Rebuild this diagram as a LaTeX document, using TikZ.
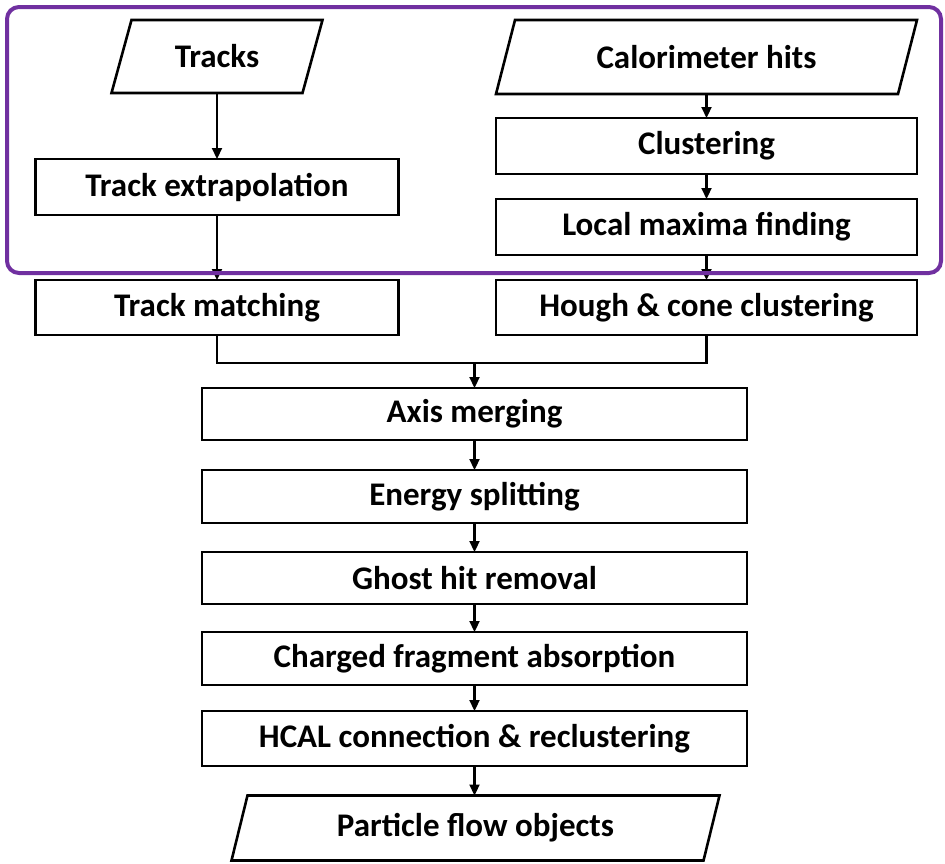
\documentclass[tikz,border=0pt]{standalone}
\usepackage{fontspec}
\setmainfont{Carlito}
\usetikzlibrary{arrows.meta}
\definecolor{framepurple}{RGB}{112,48,160}
\newcommand{\iopara}[2]{\draw [line width=2.6pt,line join=miter] ([xshift=#2]#1.north west) -- ([xshift=#2]#1.north east) -- ([xshift=-#2]#1.south east) -- ([xshift=-#2]#1.south west) -- cycle;}
\begin{document}
\begin{tikzpicture}[x=1pt,y=-1pt,
	box/.style={draw,line width=2.6pt,rectangle,inner sep=0pt,outer sep=0pt,font=\fontsize{33}{36}\selectfont\bfseries},
	iobox/.style={rectangle,inner sep=0pt,outer sep=0pt,font=\fontsize{33}{36}\selectfont\bfseries},
	arr/.style={line width=2.2pt,-{Triangle[length=11pt,width=10pt]}},
	frame/.style={draw=framepurple,line width=4pt,rounded corners=12pt}]
				\useasboundingbox (0,0) rectangle (945,863);
				% left column
				\node [iobox,minimum width=191,minimum height=73] (tracks) at (217,56.5) {Tracks};
				\node [box,minimum width=363,minimum height=56] (trkext) at (217,187) {Track extrapolation};
				\node [box,minimum width=363,minimum height=55] (trkmatch) at (217,307.5) {Track matching};
				% right column
				\node [iobox,minimum width=402,minimum height=74] (calohits) at (706.5,57) {Calorimeter hits};
				\node [box,minimum width=421,minimum height=56] (clust) at (706.5,146) {Clustering};
				\node [box,minimum width=421,minimum height=56] (locmax) at (706.5,227) {Local maxima finding};
				\node [box,minimum width=421,minimum height=55] (hough) at (706.5,307.5) {Hough \& cone clustering};
				\iopara{tracks}{10}
				\iopara{calohits}{9.5}
				% main chain
				\coordinate (join) at (474.5,363);
				\node [box,minimum width=545,minimum height=52] (axis) at (474.5,414) {Axis merging};
				\node [box,minimum width=545,minimum height=53] (energy) at (474.5,496.5) {Energy splitting};
				\node [box,minimum width=545,minimum height=52] (ghost) at (474.5,578) {Ghost hit removal};
				\node [box,minimum width=545,minimum height=53] (charged) at (474.5,658.5) {Charged fragment absorption};
				\node [box,minimum width=545,minimum height=55] (hcal) at (474.5,738.5) {HCAL connection \& reclustering};
				\node [iobox,minimum width=472,minimum height=65] (pfo) at (475.5,828) {Particle flow objects};
				\iopara{pfo}{8}
				\draw [arr] (tracks) -- (trkext);
				\draw [arr] (trkext) -- (trkmatch);
				\draw [arr] (calohits) -- (clust);
				\draw [arr] (clust) -- (locmax);
				\draw [arr] (locmax) -- (hough);
				\draw [line width=2.2pt] (trkmatch.south) |- (join) -| (hough.south);
				\draw [arr] (join) -- (axis);
				\draw [arr] (axis) -- (energy);
				\draw [arr] (energy) -- (ghost);
				\draw [arr] (ghost) -- (charged);
				\draw [arr] (charged) -- (hcal);
				\draw [arr] (hcal) -- (pfo.north-|hcal.south);
				% purple frame round the inputs
				\draw [frame] (7,7) rectangle (941,273);
			\end{tikzpicture}
\end{document}
